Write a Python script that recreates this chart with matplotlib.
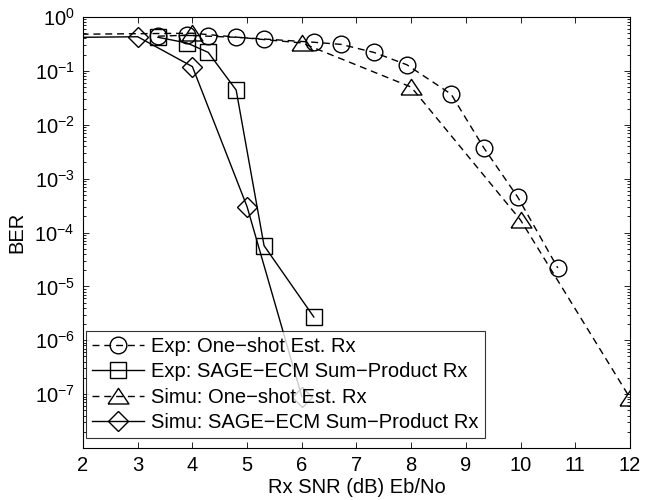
import numpy as np
import matplotlib
matplotlib.use("Agg")
import matplotlib.pyplot as plt
from matplotlib.ticker import LogLocator, FixedLocator, FuncFormatter

plt.rcParams['font.family'] = ['Liberation Sans', 'DejaVu Sans']
plt.rcParams['mathtext.default'] = 'regular'

# measured SNR points (Exp)
exp_snr = [3.37, 3.90, 4.29, 4.80, 5.31, 6.22, 6.72, 7.32, 7.92, 8.73, 9.33, 9.95, 10.68]
exp_oneshot = [0.44, 0.46, 0.44, 0.42, 0.39, 0.34, 0.31, 0.22, 0.13, 0.037, 0.0037, 4.5e-4, 2.2e-5]
exp_sage_snr = [3.37, 3.90, 4.29, 4.80, 5.31, 6.22]
exp_sage = [0.42, 0.33, 0.22, 0.044, 5.7e-5, 2.7e-6]

# simulation
simu_oneshot_snr = [0, 4, 6, 8, 10, 12]
simu_oneshot = [0.46, 0.50, 0.33, 0.050, 1.7e-4, 8.5e-8]
simu_sage_snr = [1, 3, 4, 5, 6]
simu_sage = [0.41, 0.43, 0.12, 3.0e-4, 9e-8]

labels = ["Exp: One\u2212shot Est. Rx",
          "Exp: SAGE\u2212ECM Sum\u2212Product Rx",
          "Simu: One\u2212shot Est. Rx",
          "Simu: SAGE\u2212ECM Sum\u2212Product Rx"]

# matlab style triangle: wider than tall
tri = [(-1, -0.72), (1, -0.72), (0, 0.78), (-1, -0.72)]

fig = plt.figure(figsize=(6.47, 5), dpi=100)
ax = fig.add_axes([0.1283, 0.104, 0.8454, 0.862])

lw = 1.0
dash = (5, 3.5)
ax.semilogy(exp_snr, exp_oneshot, color='k', lw=lw, dashes=dash, marker='o', ms=12,
            mfc='none', mec='k', mew=lw, label=labels[0])
ax.semilogy(exp_sage_snr, exp_sage, color='k', lw=lw, ls='-', marker='s', ms=11.5,
            mfc='none', mec='k', mew=lw, label=labels[1])
ax.semilogy(simu_oneshot_snr, simu_oneshot, color='k', lw=lw, dashes=dash, marker=tri, ms=15,
            mfc='none', mec='k', mew=lw, label=labels[2])
ax.semilogy(simu_sage_snr, simu_sage, color='k', lw=lw, ls='-', marker='D', ms=10,
            mfc='none', mec='k', mew=lw, label=labels[3])

ax.set_xlim(2, 12)
ax.set_ylim(1e-8, 1)
ax.set_xticks(range(2, 13))
ax.yaxis.set_major_locator(FixedLocator([10.0**k for k in range(-8, 1)]))
ax.yaxis.set_minor_locator(LogLocator(base=10, subs=np.arange(2, 10), numticks=20))
ax.yaxis.set_major_formatter(FuncFormatter(
    lambda v, p: '' if v < 5e-8 else r'$10^{%d}$' % int(round(np.log10(v)))))

fs = 14.5
ax.tick_params(which='both', direction='in', top=True, right=True, labelsize=fs, width=0.6)
ax.tick_params(which='major', length=4, pad=6)
ax.tick_params(which='minor', length=2.2)
for s in ax.spines.values():
    s.set_linewidth(0.8)

ax.set_xlabel("Rx SNR (dB) Eb/No", fontsize=fs, labelpad=2)
ax.set_ylabel("BER", fontsize=fs, labelpad=6)

leg = ax.legend(loc='lower left', bbox_to_anchor=(0.005, 0.023), borderaxespad=0,
                fontsize=fs, frameon=True, fancybox=False, edgecolor='k',
                handlelength=2.6, handletextpad=0.35, labelspacing=0.32,
                borderpad=0.3)
leg.get_frame().set_linewidth(0.8)

fig.savefig("out.png", dpi=100)
